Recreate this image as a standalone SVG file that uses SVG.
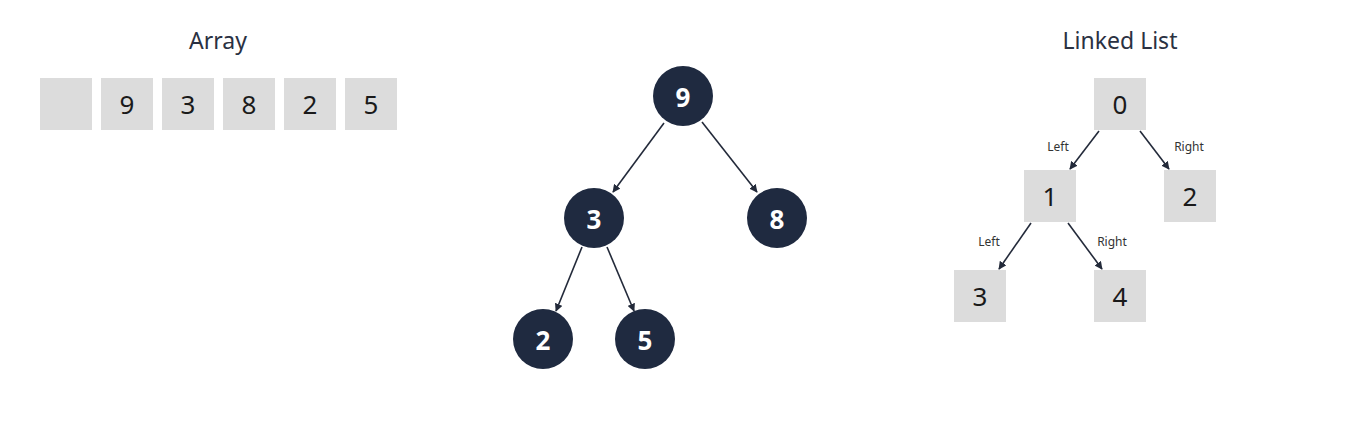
<svg xmlns="http://www.w3.org/2000/svg" width="1353" height="426" viewBox="0 0 1353 426">
<defs>
<marker id="arr" viewBox="0 0 10 10" refX="9" refY="5" markerWidth="8" markerHeight="8" markerUnits="userSpaceOnUse" orient="auto">
<path d="M0,0 L10,5 L0,10 z" fill="#232a3a"/>
</marker>
</defs>
<style>
.title{font-family:"Noto Sans","Open Sans",sans-serif;font-size:23px;fill:#2a3142;text-anchor:middle}
.box{fill:#dcdcdc}
.bt{font-family:"Noto Sans","Open Sans",sans-serif;font-size:26px;fill:#1a1a1a;text-anchor:middle;dominant-baseline:central}
.circ{fill:#1f2a40}
.ct{font-family:"Noto Sans","Open Sans",sans-serif;font-size:26px;font-weight:bold;fill:#ffffff;text-anchor:middle;dominant-baseline:central}
.edge{stroke:#232a3a;stroke-width:1.6;fill:none;marker-end:url(#arr)}
.lbl{font-family:"Noto Sans","Open Sans",sans-serif;font-size:12px;fill:#333;text-anchor:middle;dominant-baseline:central}
</style>
<rect width="1353" height="426" fill="#ffffff"/>
<text class="title" x="218" y="49">Array</text>
<text class="title" x="1120" y="49">Linked List</text>
<g id="array">
<g id="a0"><rect class="box" x="40" y="78" width="52" height="52"/></g>
<g id="a1"><rect class="box" x="101" y="78" width="52" height="52"/><text class="bt" x="127" y="104">9</text></g>
<g id="a2"><rect class="box" x="162" y="78" width="52" height="52"/><text class="bt" x="188" y="104">3</text></g>
<g id="a3"><rect class="box" x="223" y="78" width="52" height="52"/><text class="bt" x="249" y="104">8</text></g>
<g id="a4"><rect class="box" x="284" y="78" width="52" height="52"/><text class="bt" x="310" y="104">2</text></g>
<g id="a5"><rect class="box" x="345" y="78" width="52" height="52"/><text class="bt" x="371" y="104">5</text></g>
</g>
<g id="connectors">
<line class="edge" x1="664" y1="123" x2="613" y2="192"/>
<line class="edge" x1="702" y1="122" x2="757" y2="192"/>
<line class="edge" x1="582" y1="247" x2="556" y2="311"/>
<line class="edge" x1="607" y1="247" x2="634" y2="311"/>
<line class="edge" x1="1099" y1="131" x2="1070" y2="169"/>
<line class="edge" x1="1140" y1="131" x2="1169" y2="169"/>
<line class="edge" x1="1031" y1="223" x2="999" y2="269"/>
<line class="edge" x1="1068" y1="223" x2="1102" y2="269"/>
<text class="lbl" x="1058" y="146">Left</text>
<text class="lbl" x="1189" y="146">Right</text>
<text class="lbl" x="989" y="241">Left</text>
<text class="lbl" x="1112" y="241">Right</text>
</g>
<g id="t9"><circle class="circ" cx="683" cy="96" r="30"/><text class="ct" x="683" y="97">9</text></g>
<g id="t3"><circle class="circ" cx="594" cy="218" r="30"/><text class="ct" x="594" y="219">3</text></g>
<g id="t8"><circle class="circ" cx="777" cy="218" r="30"/><text class="ct" x="777" y="219">8</text></g>
<g id="t2"><circle class="circ" cx="543" cy="339" r="30"/><text class="ct" x="543" y="340">2</text></g>
<g id="t5"><circle class="circ" cx="645" cy="339" r="30"/><text class="ct" x="645" y="340">5</text></g>
<g id="l0"><rect class="box" x="1094" y="78" width="52" height="52"/><text class="bt" x="1120" y="104">0</text></g>
<g id="l1"><rect class="box" x="1024" y="170" width="52" height="52"/><text class="bt" x="1050" y="196">1</text></g>
<g id="l2"><rect class="box" x="1164" y="170" width="52" height="52"/><text class="bt" x="1190" y="196">2</text></g>
<g id="l3"><rect class="box" x="954" y="270" width="52" height="52"/><text class="bt" x="980" y="296">3</text></g>
<g id="l4"><rect class="box" x="1094" y="270" width="52" height="52"/><text class="bt" x="1120" y="296">4</text></g>
</svg>
